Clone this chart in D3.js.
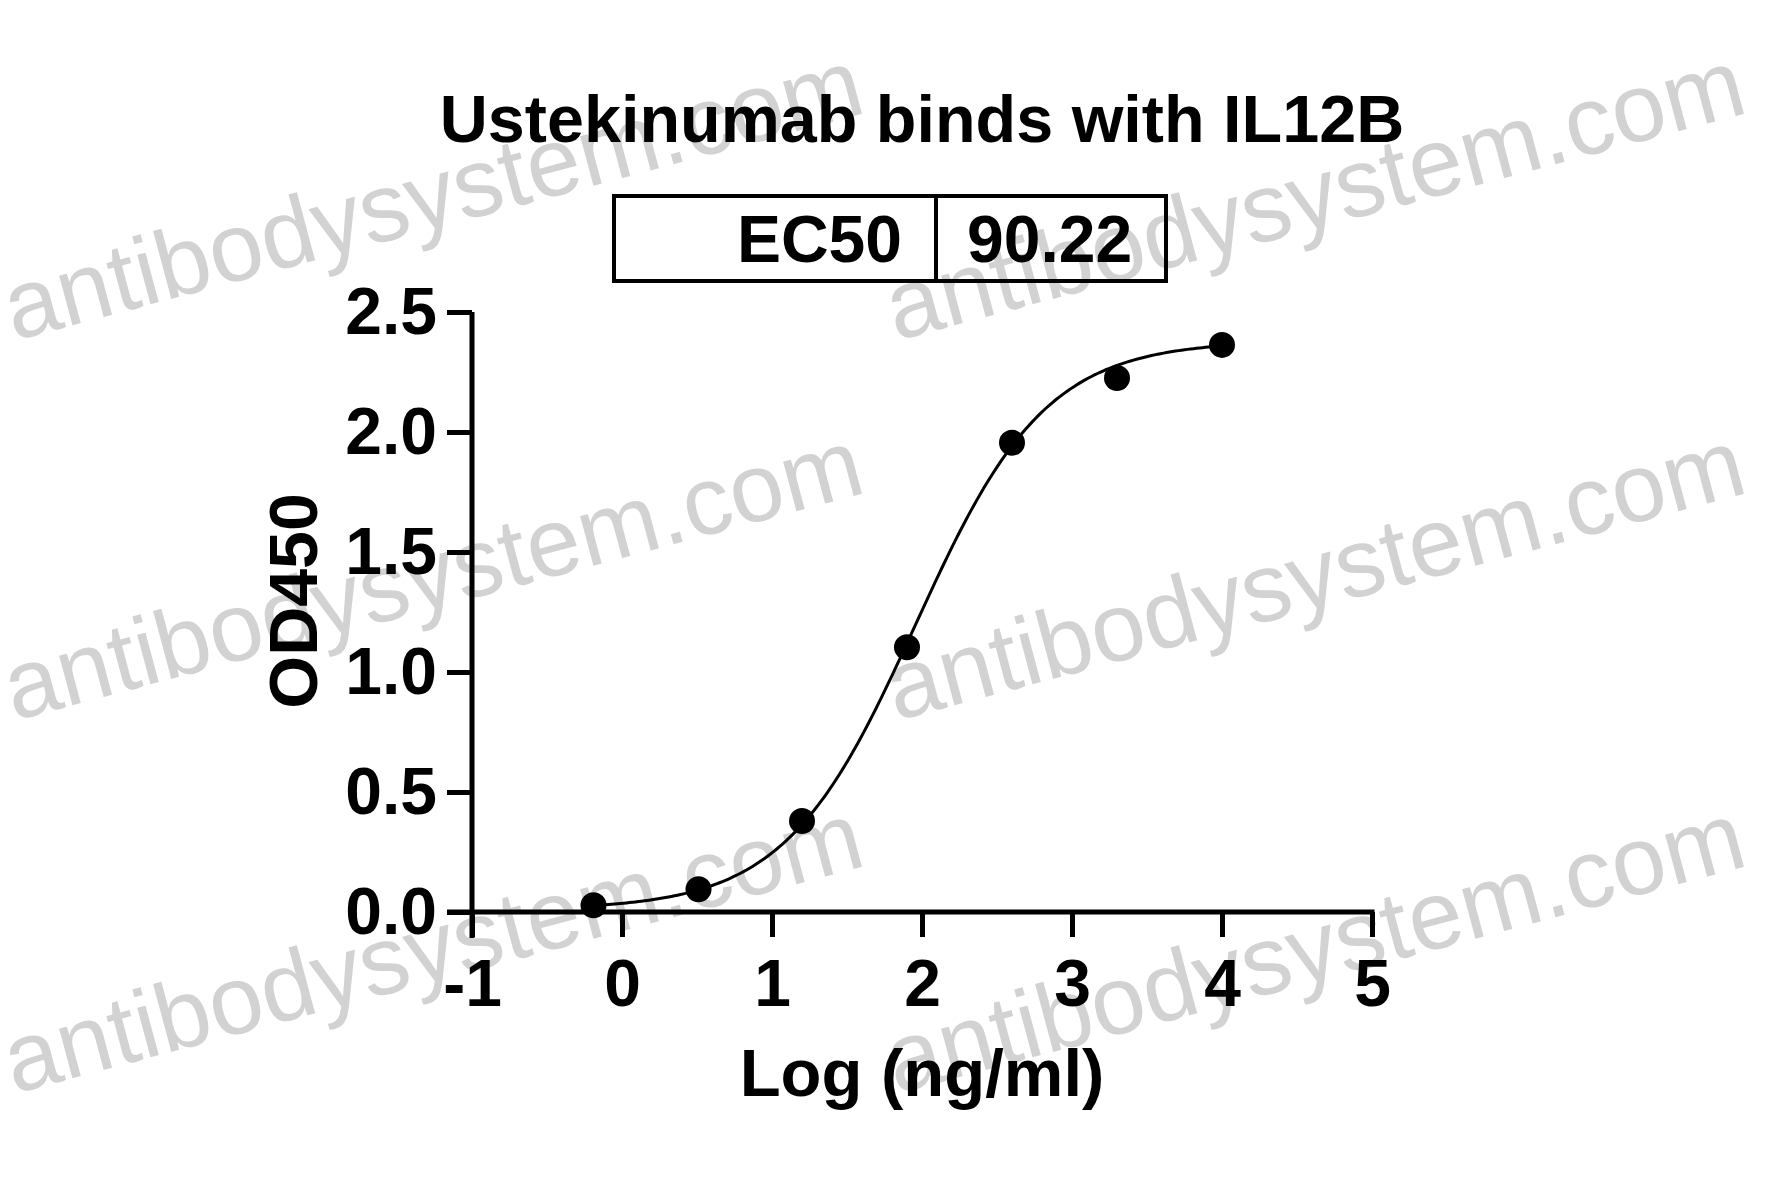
<!DOCTYPE html>
<html>
<head>
<meta charset="utf-8">
<script src="https://cdn.jsdelivr.net/npm/d3@7/dist/d3.min.js"></script>
<style>
  html, body { margin: 0; padding: 0; background: #fff; }
  svg { display: block; }
  text { font-family: "Liberation Sans", Arial, sans-serif; }
</style>
</head>
<body>
<svg id="chart" width="1781" height="1197"></svg>
<script>
// ---- data ----
const logConc = [-0.19, 0.51, 1.20, 1.90, 2.60, 3.30, 4.00];
const od450   = [0.028, 0.095, 0.379, 1.103, 1.955, 2.225, 2.363];
const xTicks = [-1, 0, 1, 2, 3, 4, 5];
const xTickLabels = ["-1", "0", "1", "2", "3", "4", "5"];
const yTicks = [0, 0.5, 1.0, 1.5, 2.0, 2.5];
const yTickLabels = ["0.0", "0.5", "1.0", "1.5", "2.0", "2.5"];
// 4PL fit parameters (EC50 shown in the chart)
const ec50 = 90.22;
const fitBottom = 0.01;
const fitTop = 2.38;
const fitHill = 1.0;
const titleText = "Ustekinumab binds with IL12B";
const xTitle = "Log (ng/ml)";
const yTitle = "OD450";
const watermark = "antibodysystem.com";

const svg = d3.select("#chart");

// watermarks (behind everything)
const wmPos = [[14, 341], [896, 341], [14, 721], [896, 721], [14, 1094], [896, 1094]];
svg.append("g").selectAll("text").data(wmPos).join("text")
  .attr("transform", d => `translate(${d[0]},${d[1]}) rotate(-15)`)
  .attr("font-size", 97)
  .attr("fill", "#d2d2d2")
  .style("font-family", "'Liberation Sans', Arial, sans-serif")
  .text(watermark);

const x = d3.scaleLinear().domain([-1, 5]).range([472, 1372]);
const y = d3.scaleLinear().domain([0, 2.5]).range([912, 312]);

const g = svg.append("g");

// title
g.append("text").attr("x", 922).attr("y", 142).attr("text-anchor", "middle")
  .attr("font-size", 66.5).attr("font-weight", "bold").text(titleText);

// EC50 box
const box = g.append("g");
box.append("rect").attr("x", 614).attr("y", 196).attr("width", 552).attr("height", 85)
  .attr("fill", "none").attr("stroke", "#000").attr("stroke-width", 4);
box.append("line").attr("x1", 936).attr("x2", 936).attr("y1", 196).attr("y2", 281)
  .attr("stroke", "#000").attr("stroke-width", 4);
box.append("text").attr("x", 902).attr("y", 262).attr("text-anchor", "end")
  .attr("font-size", 66).attr("font-weight", "bold").text("EC50");
box.append("text").attr("x", 967).attr("y", 262).attr("text-anchor", "start")
  .attr("font-size", 66).attr("font-weight", "bold").text(ec50.toFixed(2));

// axes
const axisW = 5;
const tickLen = 25;
const tickFont = 66;
const yAxis = d3.axisLeft(y).tickValues(yTicks).tickFormat((d, i) => yTickLabels[i])
  .tickSizeInner(tickLen).tickSizeOuter(0).tickPadding(10);
const yg = g.append("g").attr("transform", `translate(${x(-1)},0)`).call(yAxis);
yg.select(".domain").remove();
yg.append("line").attr("x1", 0).attr("x2", 0).attr("y1", y(2.5)).attr("y2", y(0) + tickLen + 1)
  .attr("stroke", "#000").attr("stroke-width", axisW);
yg.selectAll(".tick line").attr("stroke-width", axisW);
yg.selectAll(".tick text").attr("font-size", tickFont).attr("font-weight", "bold")
  .attr("fill", "#000").style("font-family", "'Liberation Sans', Arial, sans-serif");

const xAxis = d3.axisBottom(x).tickValues(xTicks).tickFormat((d, i) => xTickLabels[i])
  .tickSizeInner(tickLen).tickSizeOuter(0).tickPadding(22);
const xg = g.append("g").attr("transform", `translate(0,${y(0)})`).call(xAxis);
xg.select(".domain").remove();
xg.append("line").attr("x1", x(-1) - tickLen).attr("x2", x(5) + axisW / 2).attr("y1", 0).attr("y2", 0)
  .attr("stroke", "#000").attr("stroke-width", axisW);
xg.selectAll(".tick line").attr("stroke-width", axisW);
xg.selectAll(".tick text").attr("font-size", tickFont).attr("font-weight", "bold")
  .attr("fill", "#000").style("font-family", "'Liberation Sans', Arial, sans-serif");

// axis titles
g.append("text").attr("x", 922).attr("y", 1096).attr("text-anchor", "middle")
  .attr("font-size", 67).attr("font-weight", "bold").text(xTitle);
g.append("text").attr("transform", `translate(317,601) rotate(-90)`)
  .attr("text-anchor", "middle").attr("font-size", 68).attr("font-weight", "bold").text(yTitle);

// fitted 4PL curve
const logEC = Math.log10(ec50);
const f = v => fitBottom + (fitTop - fitBottom) / (1 + Math.pow(10, (logEC - v) * fitHill));
const xs = d3.range(logConc[0], logConc[logConc.length - 1] + 1e-9, 0.02);
g.append("path").datum(xs)
  .attr("d", d3.line().x(d => x(d)).y(d => y(f(d))))
  .attr("fill", "none").attr("stroke", "#000").attr("stroke-width", 3);

// points
g.selectAll("circle.pt").data(logConc).join("circle").attr("class", "pt")
  .attr("cx", d => x(d)).attr("cy", (d, i) => y(od450[i])).attr("r", 13).attr("fill", "#000");
</script>
</body>
</html>
